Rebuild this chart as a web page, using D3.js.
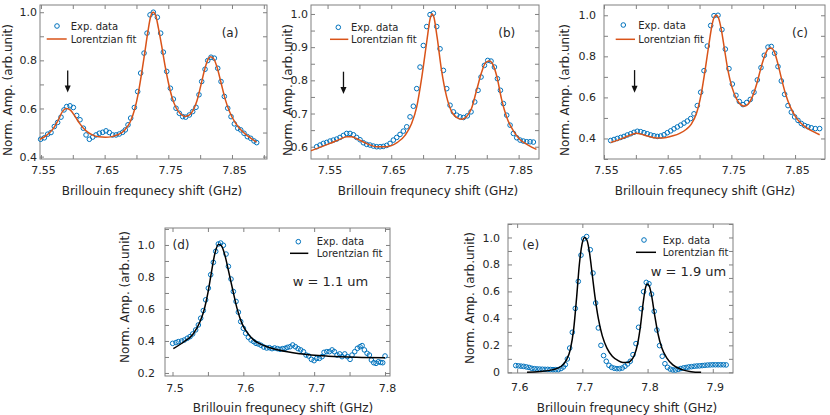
<!DOCTYPE html>
<html>
<head>
<meta charset="utf-8">
<script src="https://cdn.jsdelivr.net/npm/d3@7"></script>
<style>
  body { margin: 0; background: #fff; }
  text { font-family: "DejaVu Sans", Verdana, sans-serif; }
</style>
</head>
<body>
<div id="chart"></div>
<script>
// ---- data ----
var aExpX = [7.5495,7.5553,7.5605,7.5658,7.5710,7.5762,7.5815,7.5862,7.5904,7.5956,7.6009,7.6061,7.6113,7.6166,7.6208,7.6260,7.6312,7.6365,7.6417,7.6469,7.6522,7.6574,7.6626,7.6679,7.6731,7.6783,7.6825,7.6867,7.6909,7.6967,7.7019,7.7066,7.7119,7.7166,7.7213,7.7265,7.7328,7.7380,7.7422,7.7475,7.7532,7.7579,7.7621,7.7673,7.7726,7.7773,7.7831,7.7883,7.7935,7.7982,7.8024,7.8077,7.8119,7.8171,7.8223,7.8276,7.8328,7.8380,7.8433,7.8485,7.8537,7.8590,7.8637,7.8689,7.8741,7.8794,7.8846,7.8888];
var aExpY = [0.472,0.478,0.493,0.500,0.525,0.542,0.564,0.594,0.608,0.611,0.604,0.571,0.553,0.518,0.490,0.472,0.481,0.490,0.497,0.501,0.507,0.500,0.490,0.490,0.494,0.501,0.511,0.532,0.560,0.604,0.670,0.747,0.830,0.913,0.989,1.000,0.979,0.913,0.834,0.754,0.684,0.639,0.601,0.580,0.566,0.564,0.573,0.587,0.605,0.657,0.712,0.763,0.799,0.813,0.809,0.767,0.712,0.650,0.601,0.566,0.536,0.518,0.511,0.497,0.483,0.476,0.465,0.458];
var aFitX = [7.5485,7.5588,7.5690,7.5773,7.5845,7.5896,7.5958,7.6029,7.6101,7.6204,7.6307,7.6410,7.6512,7.6615,7.6718,7.6820,7.6903,7.6975,7.7026,7.7077,7.7129,7.7180,7.7221,7.7262,7.7303,7.7344,7.7396,7.7447,7.7499,7.7560,7.7622,7.7694,7.7766,7.7827,7.7889,7.7950,7.8012,7.8074,7.8125,7.8166,7.8217,7.8269,7.8330,7.8392,7.8464,7.8546,7.8649,7.8752,7.8885];
var aFitY = [0.472,0.488,0.515,0.553,0.590,0.600,0.594,0.570,0.540,0.508,0.490,0.482,0.480,0.483,0.492,0.512,0.545,0.600,0.660,0.740,0.830,0.920,0.980,1.000,0.985,0.935,0.860,0.780,0.710,0.645,0.603,0.577,0.567,0.572,0.592,0.632,0.697,0.765,0.805,0.815,0.805,0.768,0.705,0.640,0.585,0.543,0.508,0.485,0.460];

var bExpX = [7.5329,7.5381,7.5434,7.5486,7.5538,7.5591,7.5643,7.5695,7.5748,7.5800,7.5853,7.5905,7.5957,7.6010,7.6062,7.6114,7.6167,7.6219,7.6271,7.6324,7.6376,7.6428,7.6481,7.6533,7.6586,7.6638,7.6690,7.6743,7.6795,7.6847,7.6900,7.6952,7.7004,7.7057,7.7109,7.7161,7.7214,7.7266,7.7319,7.7371,7.7423,7.7476,7.7528,7.7580,7.7633,7.7695,7.7753,7.7811,7.7863,7.7910,7.7963,7.8015,7.8067,7.8120,7.8167,7.8214,7.8261,7.8313,7.8366,7.8418,7.8470,7.8523,7.8575,7.8627,7.8680,7.8732];
var bExpY = [0.600,0.605,0.610,0.613,0.617,0.620,0.623,0.628,0.634,0.640,0.640,0.636,0.628,0.621,0.612,0.607,0.605,0.602,0.600,0.600,0.601,0.604,0.610,0.620,0.628,0.637,0.647,0.660,0.690,0.722,0.775,0.840,0.905,0.962,0.998,1.002,0.962,0.895,0.830,0.775,0.725,0.705,0.695,0.690,0.688,0.693,0.705,0.735,0.770,0.810,0.845,0.860,0.858,0.840,0.805,0.770,0.730,0.695,0.665,0.640,0.627,0.620,0.617,0.615,0.615,0.614];
var bFitX = [7.524,7.538,7.554,7.570,7.580,7.588,7.598,7.611,7.627,7.643,7.659,7.672,7.682,7.690,7.698,7.706,7.711,7.714,7.717,7.722,7.729,7.737,7.745,7.753,7.761,7.768,7.776,7.784,7.792,7.798,7.804,7.809,7.816,7.823,7.831,7.842,7.852,7.865,7.878];
var bFitY = [0.588,0.598,0.610,0.623,0.630,0.630,0.622,0.610,0.600,0.600,0.612,0.635,0.670,0.720,0.810,0.920,0.985,1.000,0.990,0.930,0.830,0.750,0.705,0.688,0.683,0.690,0.715,0.770,0.825,0.853,0.858,0.850,0.810,0.745,0.690,0.647,0.622,0.605,0.592];

var cExpX = [7.5605,7.5657,7.5709,7.5762,7.5814,7.5866,7.5919,7.5971,7.6023,7.6076,7.6128,7.6180,7.6233,7.6285,7.6337,7.6390,7.6442,7.6494,7.6547,7.6599,7.6651,7.6704,7.6756,7.6808,7.6861,7.6913,7.6965,7.7018,7.7070,7.7122,7.7175,7.7227,7.7290,7.7352,7.7405,7.7462,7.7515,7.7572,7.7625,7.7682,7.7740,7.7797,7.7855,7.7907,7.7965,7.8017,7.8075,7.8127,7.8179,7.8232,7.8284,7.8336,7.8389,7.8441,7.8493,7.8546,7.8598,7.8650,7.8703,7.8755,7.8818,7.8886];
var cExpY = [0.390,0.395,0.400,0.405,0.410,0.417,0.423,0.430,0.435,0.433,0.428,0.423,0.417,0.413,0.410,0.412,0.418,0.428,0.437,0.447,0.456,0.465,0.475,0.485,0.497,0.520,0.560,0.625,0.730,0.850,0.950,0.998,1.000,0.930,0.835,0.740,0.665,0.610,0.580,0.565,0.575,0.590,0.625,0.685,0.745,0.805,0.845,0.848,0.815,0.750,0.680,0.615,0.560,0.528,0.505,0.488,0.473,0.463,0.457,0.452,0.448,0.448];
var cFitX = [7.5605,7.5720,7.5824,7.5929,7.6008,7.6076,7.6165,7.6269,7.6374,7.6479,7.6583,7.6688,7.6793,7.6871,7.6950,7.7028,7.7091,7.7148,7.7201,7.7237,7.7269,7.7300,7.7342,7.7394,7.7447,7.7509,7.7577,7.7646,7.7708,7.7771,7.7839,7.7902,7.7970,7.8033,7.8085,7.8127,7.8169,7.8221,7.8284,7.8352,7.8430,7.8519,7.8624,7.8755,7.8886];
var cFitY = [0.380,0.392,0.405,0.418,0.425,0.422,0.413,0.405,0.402,0.405,0.413,0.425,0.445,0.470,0.520,0.620,0.740,0.860,0.960,0.995,1.000,0.985,0.930,0.830,0.730,0.650,0.595,0.565,0.557,0.570,0.610,0.670,0.750,0.810,0.838,0.840,0.825,0.775,0.695,0.615,0.550,0.500,0.465,0.438,0.418];

var dExpX = [7.5002,7.5049,7.5082,7.5129,7.5167,7.5209,7.5247,7.5285,7.5327,7.5365,7.5398,7.5435,7.5468,7.5506,7.5539,7.5577,7.5610,7.5647,7.5680,7.5718,7.5756,7.5789,7.5826,7.5859,7.5897,7.5930,7.5963,7.6000,7.6033,7.6071,7.6109,7.6146,7.6179,7.6212,7.6250,7.6288,7.6330,7.6368,7.6405,7.6443,7.6481,7.6518,7.6556,7.6589,7.6622,7.6660,7.6697,7.6735,7.6773,7.6810,7.6848,7.6886,7.6923,7.6961,7.6999,7.7036,7.7074,7.7112,7.7140,7.7178,7.7215,7.7253,7.7286,7.7323,7.7361,7.7394,7.7432,7.7469,7.7507,7.7535,7.7573,7.7611,7.7648,7.7677,7.7709,7.7747,7.7780,7.7808,7.7841,7.7874,7.7907,7.7940,7.7968,7.8001];
var dExpY = [0.385,0.390,0.396,0.400,0.406,0.417,0.427,0.444,0.469,0.500,0.542,0.590,0.657,0.730,0.814,0.891,0.960,1.006,1.012,0.998,0.943,0.866,0.787,0.709,0.647,0.580,0.521,0.479,0.448,0.423,0.406,0.396,0.385,0.381,0.373,0.362,0.356,0.358,0.352,0.356,0.352,0.348,0.352,0.354,0.360,0.364,0.375,0.364,0.352,0.344,0.333,0.312,0.306,0.285,0.277,0.291,0.291,0.302,0.329,0.333,0.333,0.344,0.333,0.312,0.319,0.302,0.319,0.302,0.285,0.312,0.333,0.354,0.364,0.371,0.344,0.323,0.312,0.281,0.264,0.260,0.270,0.266,0.264,0.306];
var dFitX = [7.5012,7.5153,7.5294,7.5388,7.5450,7.5500,7.5550,7.5600,7.5650,7.5690,7.5740,7.5790,7.5850,7.5910,7.5980,7.6050,7.6150,7.6300,7.6500,7.6800,7.7200,7.7600,7.8001];
var dFitY = [0.352,0.392,0.445,0.520,0.600,0.700,0.830,0.950,1.003,0.995,0.935,0.840,0.720,0.605,0.510,0.455,0.405,0.370,0.343,0.320,0.305,0.298,0.295];

var eExpX = [7.5979,7.6019,7.6060,7.6101,7.6142,7.6183,7.6224,7.6264,7.6305,7.6346,7.6387,7.6428,7.6469,7.6509,7.6550,7.6591,7.6632,7.6673,7.6709,7.6739,7.6770,7.6806,7.6846,7.6892,7.6938,7.6979,7.7020,7.7066,7.7122,7.7163,7.7204,7.7245,7.7285,7.7326,7.7367,7.7408,7.7449,7.7490,7.7530,7.7571,7.7612,7.7653,7.7694,7.7735,7.7776,7.7822,7.7862,7.7903,7.7939,7.7980,7.8021,7.8061,7.8102,7.8143,7.8184,7.8225,7.8266,7.8306,7.8347,7.8388,7.8429,7.8470,7.8510,7.8551,7.8592,7.8633,7.8674,7.8715,7.8756,7.8796,7.8837,7.8878,7.8919,7.8960,7.9001,7.9041,7.9082,7.9123,7.9164,7.9205];
var eExpY = [0.050,0.048,0.046,0.044,0.040,0.036,0.030,0.027,0.025,0.024,0.023,0.022,0.022,0.021,0.020,0.020,0.020,0.028,0.040,0.057,0.099,0.180,0.297,0.474,0.674,0.869,0.990,1.007,0.909,0.736,0.514,0.329,0.200,0.124,0.082,0.052,0.037,0.030,0.027,0.027,0.032,0.045,0.062,0.082,0.131,0.213,0.334,0.472,0.598,0.667,0.657,0.580,0.452,0.314,0.198,0.119,0.064,0.037,0.024,0.018,0.017,0.022,0.028,0.033,0.036,0.040,0.042,0.045,0.047,0.048,0.050,0.052,0.054,0.055,0.056,0.056,0.056,0.056,0.056,0.055];
var eFitX = [7.6152,7.6346,7.6550,7.6678,7.6754,7.6816,7.6867,7.6913,7.6954,7.6995,7.7035,7.7071,7.7112,7.7153,7.7194,7.7245,7.7306,7.7377,7.7459,7.7546,7.7622,7.7684,7.7740,7.7796,7.7847,7.7893,7.7934,7.7970,7.7995,7.8026,7.8061,7.8107,7.8158,7.8219,7.8296,7.8388,7.8515,7.8668,7.8821];
var eFitY = [0.000,0.006,0.020,0.045,0.090,0.170,0.320,0.560,0.800,0.950,1.000,0.980,0.880,0.720,0.560,0.400,0.270,0.180,0.120,0.088,0.073,0.072,0.085,0.125,0.210,0.350,0.520,0.630,0.655,0.640,0.570,0.430,0.290,0.180,0.105,0.055,0.022,0.005,0.000];

// tick labels
var xLabelsTop = [7.55, 7.65, 7.75, 7.85];
var xLabelsD = [7.5, 7.6, 7.7, 7.8];
var xLabelsE = [7.6, 7.7, 7.8, 7.9];
var yLabelsA = [0.4, 0.6, 0.8, 1.0];
var yLabelsB = [0.6, 0.7, 0.8, 0.9, 1.0];
var yLabelsC = [0.4, 0.6, 0.8, 1.0];
var yLabelsD = [0.2, 0.4, 0.6, 0.8, 1.0];
var yLabelsE = [0, 0.2, 0.4, 0.6, 0.8, 1.0];

// arrows marking the weak peak (x, y top, y bottom)
var arrowX = [7.592, 7.575, 7.598];
var arrowTop = [0.758, 0.826, 0.733];
var arrowBot = [0.666, 0.759, 0.623];

var panelTags = ["(a)", "(b)", "(c)", "(d)", "(e)"];
var widthNotes = ["w = 1.1 um", "w = 1.9 um"];
var xTitle = "Brillouin frequnecy shift (GHz)";
var yTitle = "Norm. Amp. (arb.unit)";
var legendNames = ["Exp. data", "Lorentzian fit"];

var blue = "#0072BD", orange = "#D95319";

var svg = d3.select("#chart").append("svg")
    .attr("width", 830)
    .attr("height", 415);

var panels = [
  {ex: aExpX, ey: aExpY, fx: aFitX, fy: aFitY, fit: orange,
   box: {l: 40, t: 5, r: 267, b: 159}, xDom: [7.5485, 7.905], yDom: [0.39, 1.03],
   xStep: 0.05, xStart: 7.55, xLab: xLabelsTop, xFmt: ".2f", xPad: 7,
   yStep: 0.1, yStart: 0.4, yLab: yLabelsA, yFmt: ".1f", yPad: 3,
   yTitle: [8, 90], xTitle: [152, 191],
   leg: {mx: 57, my: 26, tx: 70.7, lx1: 46.7, lx2: 66.7, ly: 39},
   tag: [230, 33], arrow: 0},
  {ex: bExpX, ey: bExpY, fx: bFitX, fy: bFitY, fit: orange,
   box: {l: 311, t: 5, r: 539, b: 159}, xDom: [7.524, 7.882], yDom: [0.563, 1.027],
   xStep: 0.05, xStart: 7.55, xLab: xLabelsTop, xFmt: ".2f", xPad: 7,
   yStep: 0.05, yStart: 0.6, yLab: yLabelsB, yFmt: ".1f", yPad: 3,
   yTitle: [288, 90], xTitle: [428, 191],
   leg: {mx: 338.3, my: 27.3, tx: 351, lx1: 330, lx2: 348.3, ly: 39.3},
   tag: [506.7, 33], arrow: 1},
  {ex: cExpX, ey: cExpY, fx: cFitX, fy: cFitY, fit: orange,
   box: {l: 604, t: 5, r: 825, b: 159}, xDom: [7.55, 7.897], yDom: [0.3, 1.05],
   xStep: 0.05, xStart: 7.55, xLab: xLabelsTop, xFmt: ".2f", xPad: 7,
   yStep: 0.1, yStart: 0.3, yLab: yLabelsC, yFmt: ".1f", yPad: 8,
   yTitle: [565, 90], xTitle: [705, 191],
   leg: {mx: 623.3, my: 25, tx: 638.3, lx1: 615.7, lx2: 635, ly: 39.3},
   tag: [800, 33], arrow: 2},
  {ex: dExpX, ey: dExpY, fx: dFitX, fy: dFitY, fit: "#000",
   box: {l: 165, t: 228, r: 390, b: 376}, xDom: [7.4894, 7.8071], yDom: [0.181, 1.106],
   xStep: 0.05, xStart: 7.5, xLab: xLabelsD, xFmt: ".1f", xPad: 8,
   yStep: 0.1, yStart: 0.2, yLab: yLabelsD, yFmt: ".1f", yPad: 10,
   yTitle: [125, 297], xTitle: [283, 408],
   leg: {mx: 298.3, my: 241.7, tx: 316.7, lx1: 290, lx2: 308.3, ly: 253.3},
   tag: [181, 245], note: [0, 292.7, 281]},
  {ex: eExpX, ey: eExpY, fx: eFitX, fy: eFitY, fit: "#000",
   box: {l: 508, t: 224, r: 733, b: 373}, xDom: [7.586, 7.931], yDom: [-0.005, 1.1],
   xStep: 0.1, xStart: 7.6, xLab: xLabelsE, xFmt: ".1f", xPad: 10,
   yStep: 0.1, yStart: 0, yLab: yLabelsE, yFmt: ".1f", yPad: 8,
   yTitle: [470, 298], xTitle: [627, 408],
   leg: {mx: 644, my: 240, tx: 662.7, lx1: 636, lx2: 656, ly: 252.3},
   tag: [530.7, 244.3], note: [1, 650.7, 271.7]}
];

function isLabel(list, d) {
  return list.some(function(v) { return Math.abs(v - d) < 1e-6; });
}

function styleAxis(g) {
  g.select(".domain").remove();
  g.attr("color", "#808080")
   .attr("font-size", 11)
   .attr("font-family", "DejaVu Sans, Verdana, sans-serif");
  g.selectAll("text").attr("fill", "#262626");
}

panels.forEach(function(p, i) {
  var x = d3.scaleLinear().domain(p.xDom).range([p.box.l, p.box.r]);
  var y = d3.scaleLinear().domain(p.yDom).range([p.box.b, p.box.t]);
  var g = svg.append("g");

  var xt = d3.range(p.xStart, p.xDom[1] + 1e-9, p.xStep);
  var yt = d3.range(p.yStart, p.yDom[1] + 1e-9, p.yStep);
  var fx = d3.format(p.xFmt), fy = d3.format(p.yFmt);

  g.append("g")
    .attr("transform", "translate(0," + p.box.b + ")")
    .call(d3.axisBottom(x).tickValues(xt).tickSizeInner(-4).tickSizeOuter(0).tickPadding(p.xPad)
      .tickFormat(function(d) { return isLabel(p.xLab, d) ? fx(d) : ""; }))
    .call(styleAxis)
    .selectAll("text").attr("dx", 2);
  g.append("g")
    .attr("transform", "translate(0," + p.box.t + ")")
    .call(d3.axisTop(x).tickValues(xt).tickSizeInner(-4).tickSizeOuter(0).tickFormat(""))
    .call(styleAxis);
  g.append("g")
    .attr("transform", "translate(" + p.box.l + ",0)")
    .call(d3.axisLeft(y).tickValues(yt).tickSizeInner(-4).tickSizeOuter(0).tickPadding(p.yPad)
      .tickFormat(function(d) {
        if (!isLabel(p.yLab, d)) return "";
        return Math.abs(d) < 1e-9 ? "0" : fy(d);
      }))
    .call(styleAxis);
  g.append("g")
    .attr("transform", "translate(" + p.box.r + ",0)")
    .call(d3.axisRight(y).tickValues(yt).tickSizeInner(-4).tickSizeOuter(0).tickFormat(""))
    .call(styleAxis);

  g.append("rect")
    .attr("x", p.box.l).attr("y", p.box.t)
    .attr("width", p.box.r - p.box.l).attr("height", p.box.b - p.box.t)
    .attr("fill", "none").attr("stroke", "#808080").attr("stroke-width", 1);

  // experimental points
  var pts = d3.range(Math.min(p.ex.length, p.ey.length)).map(function(k) { return [p.ex[k], p.ey[k]]; });
  g.append("g").selectAll("circle")
    .data(pts)
    .enter()
    .append("circle")
    .attr("cx", function(d) { return x(d[0]); })
    .attr("cy", function(d) { return y(d[1]); })
    .attr("r", 2.3)
    .attr("fill", "none")
    .attr("stroke", blue)
    .attr("stroke-width", 1);

  // Lorentzian fit
  var fit = d3.range(Math.min(p.fx.length, p.fy.length)).map(function(k) { return [p.fx[k], p.fy[k]]; });
  var line = d3.line()
    .x(function(d) { return x(d[0]); })
    .y(function(d) { return y(d[1]); })
    .curve(d3.curveMonotoneX);
  g.append("path")
    .datum(fit)
    .attr("d", line)
    .attr("fill", "none")
    .attr("stroke", p.fit)
    .attr("stroke-width", 1.5);

  // arrow
  if (p.arrow !== undefined) {
    var ax = x(arrowX[p.arrow]), y1 = y(arrowTop[p.arrow]), y2 = y(arrowBot[p.arrow]);
    g.append("line")
      .attr("x1", ax).attr("x2", ax).attr("y1", y1).attr("y2", y2 - 5)
      .attr("stroke", "#111").attr("stroke-width", 1.3);
    g.append("path")
      .attr("d", "M" + (ax - 3) + "," + (y2 - 7) + "L" + (ax + 3) + "," + (y2 - 7) + "L" + ax + "," + y2 + "Z")
      .attr("fill", "#111");
  }

  // legend
  var L = p.leg;
  g.append("circle").attr("cx", L.mx).attr("cy", L.my).attr("r", 2.3)
    .attr("fill", "none").attr("stroke", blue).attr("stroke-width", 1);
  g.append("line").attr("x1", L.lx1).attr("x2", L.lx2).attr("y1", L.ly).attr("y2", L.ly)
    .attr("stroke", p.fit).attr("stroke-width", 1.5);
  g.append("text").attr("x", L.tx).attr("y", L.my).attr("dy", "0.35em")
    .attr("font-size", 10).attr("fill", "#262626").text(legendNames[0]);
  g.append("text").attr("x", L.tx).attr("y", L.ly).attr("dy", "0.35em")
    .attr("font-size", 10).attr("fill", "#262626").text(legendNames[1]);

  // panel tag
  g.append("text").attr("x", p.tag[0]).attr("y", p.tag[1]).attr("dy", "0.35em")
    .attr("text-anchor", "middle").attr("font-size", 12).attr("fill", "#262626")
    .text(panelTags[i]);

  if (p.note) {
    g.append("text").attr("x", p.note[1]).attr("y", p.note[2]).attr("dy", "0.35em")
      .attr("font-size", 13).attr("fill", "#262626").text(widthNotes[p.note[0]]);
  }

  // axis titles
  g.append("text")
    .attr("transform", "translate(" + p.xTitle[0] + "," + p.xTitle[1] + ")")
    .attr("dy", "0.35em").attr("text-anchor", "middle")
    .attr("font-size", 12).attr("fill", "#262626")
    .text(xTitle);
  g.append("text")
    .attr("transform", "translate(" + p.yTitle[0] + "," + p.yTitle[1] + ") rotate(-90)")
    .attr("dy", "0.35em").attr("text-anchor", "middle")
    .attr("font-size", 12).attr("fill", "#262626")
    .text(yTitle);
});
</script>
</body>
</html>
